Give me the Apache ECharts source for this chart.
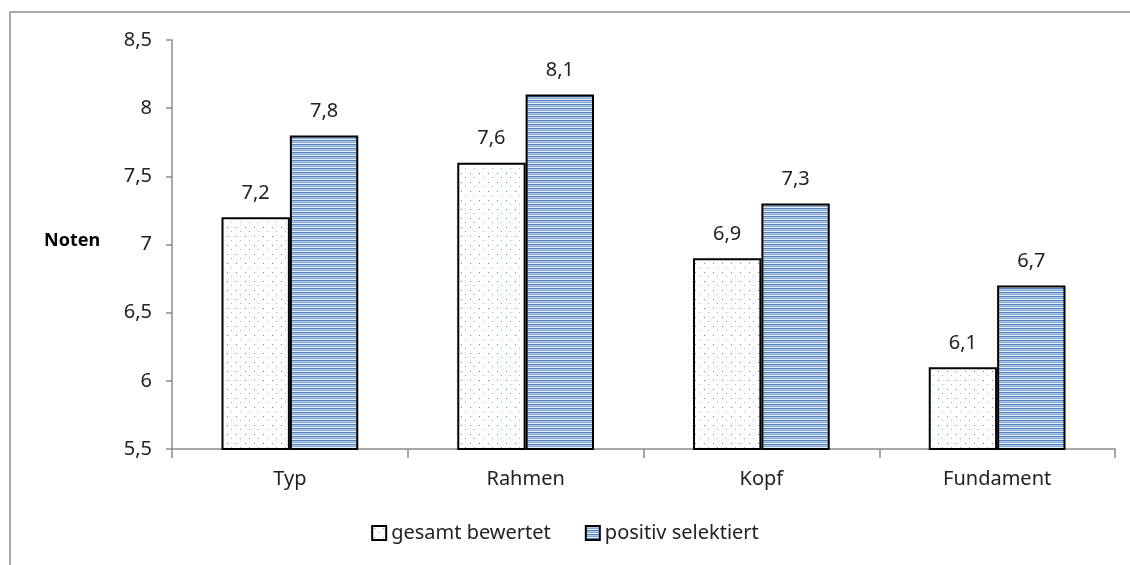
<!DOCTYPE html>
<html>
<head>
<meta charset="utf-8">
<script src="https://cdn.jsdelivr.net/npm/echarts@6/dist/echarts.min.js"></script>
<style>
  html, body { margin: 0; padding: 0; background: #fff; }
  #main { width: 1130px; height: 565px; }
</style>
</head>
<body>
<div id="main"></div>
<script>
var categories = ['Typ', 'Rahmen', 'Kopf', 'Fundament'];
var gesamtBewertet = [7.2, 7.6, 6.9, 6.1];
var positivSelektiert = [7.8, 8.1, 7.3, 6.7];
var seriesNames = ['gesamt bewertet', 'positiv selektiert'];

// Muster fuer die Balken
function dotPattern() {
  var c = document.createElement('canvas');
  c.width = 9; c.height = 9;
  var ctx = c.getContext('2d');
  ctx.fillStyle = '#ffffff';
  ctx.fillRect(0, 0, 9, 9);
  ctx.fillStyle = '#5f89c6';
  ctx.fillRect(2, 2, 1, 1);
  ctx.fillStyle = '#9fb8e0';
  ctx.fillRect(6, 6, 1, 1);
  return c;
}
function stripePattern() {
  var c = document.createElement('canvas');
  c.width = 4; c.height = 4;
  var ctx = c.getContext('2d');
  var rows = ['#5281c0', '#b5cae6', '#86a8d6', '#e8eff8'];
  rows.forEach(function (col, i) {
    ctx.fillStyle = col;
    ctx.fillRect(0, i, 4, 1);
  });
  return c;
}

var myChart = echarts.init(document.getElementById('main'));
var fontFam = '"Noto Sans", Lato, sans-serif';
var komma = function (v) { return String(v).replace('.', ','); };

var option = {
  animation: false,
  textStyle: { fontFamily: fontFam },
  grid: { left: 172, right: 15, top: 40, bottom: 116 },
  graphic: [
    {
      type: 'rect',
      shape: { x: 10, y: 12, width: 1140, height: 580 },
      style: { fill: 'none', stroke: '#8c8c8c', lineWidth: 1.5 },
      silent: true
    },
    {
      type: 'text',
      left: 44, top: 232,
      style: { text: 'Noten', fontSize: 18, fontWeight: 'bold', fill: '#000', fontFamily: fontFam }
    }
  ],
  legend: {
    bottom: 17,
    left: 'center',
    icon: 'rect',
    itemWidth: 14,
    itemHeight: 14,
    itemGap: 34,
    textStyle: { fontSize: 20, color: '#222', fontFamily: fontFam },
    data: seriesNames
  },
  xAxis: {
    type: 'category',
    data: categories,
    axisLine: { lineStyle: { color: '#8c8c8c', width: 1.5 } },
    axisTick: { show: true, length: 9, lineStyle: { color: '#8c8c8c', width: 1.5 } },
    axisLabel: { fontSize: 20, color: '#222', margin: 20 }
  },
  yAxis: {
    type: 'value',
    min: 5.5,
    max: 8.5,
    interval: 0.5,
    axisLine: { show: true, lineStyle: { color: '#8c8c8c', width: 1.5 } },
    axisTick: { show: true, inside: false, length: 6, lineStyle: { color: '#8c8c8c', width: 1.5 } },
    splitLine: { show: false },
    axisLabel: { fontSize: 20, color: '#222', margin: 20, formatter: komma }
  },
  series: [
    {
      name: seriesNames[0],
      type: 'bar',
      data: gesamtBewertet,
      barGap: '0%',
      barCategoryGap: '42%',
      itemStyle: {
        color: { image: dotPattern(), repeat: 'repeat' },
        borderColor: '#000',
        borderWidth: 2
      },
      label: { show: true, position: 'top', distance: 14, fontSize: 20, color: '#222', formatter: function (p) { return komma(p.value); } }
    },
    {
      name: seriesNames[1],
      type: 'bar',
      data: positivSelektiert,
      itemStyle: {
        color: { image: stripePattern(), repeat: 'repeat' },
        borderColor: '#000',
        borderWidth: 2
      },
      label: { show: true, position: 'top', distance: 14, fontSize: 20, color: '#222', formatter: function (p) { return komma(p.value); } }
    }
  ]
};

myChart.setOption(option);
</script>
</body>
</html>
